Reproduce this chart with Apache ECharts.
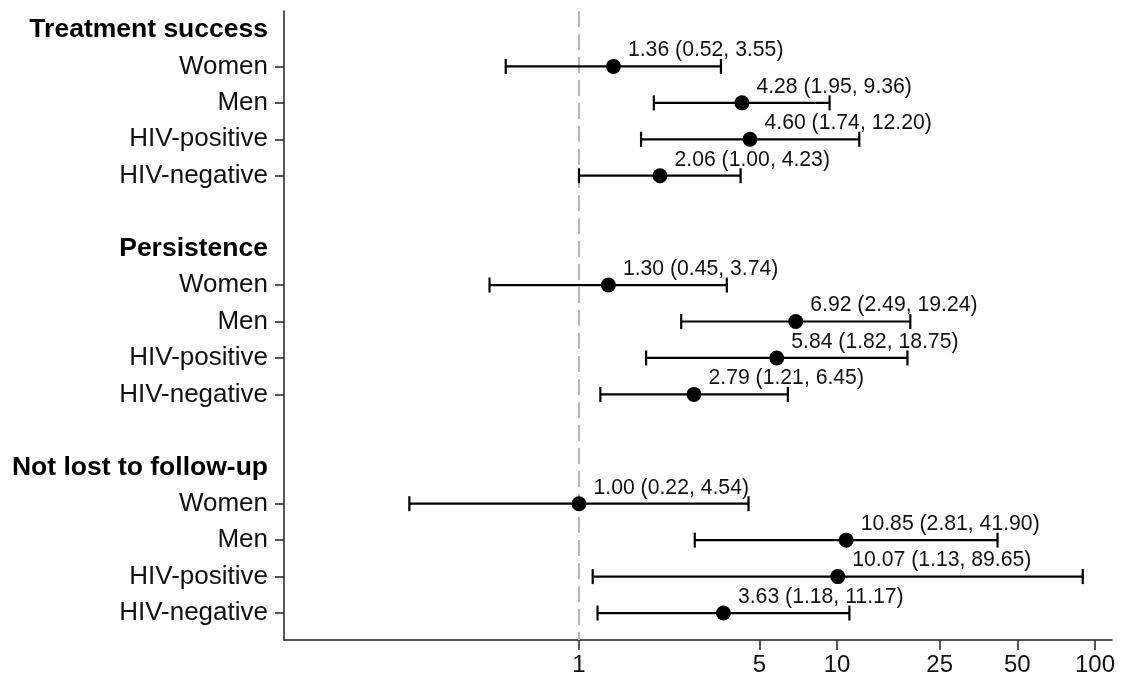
<!DOCTYPE html>
<html>
<head>
<meta charset="utf-8">
<script src="https://cdn.jsdelivr.net/npm/echarts@6/dist/echarts.min.js"></script>
<style>html,body{margin:0;padding:0;background:#fff}#c{width:1134px;height:682px}</style>
</head>
<body>
<div id="c"></div>
<script>
// Row labels (top to bottom); empty strings are spacer rows
var rowLabels = ['Treatment success','Women','Men','HIV-positive','HIV-negative','',
                 'Persistence','Women','Men','HIV-positive','HIV-negative','',
                 'Not lost to follow-up','Women','Men','HIV-positive','HIV-negative'];
var headerRows = [0, 6, 12];
var itemRows = [1,2,3,4, 7,8,9,10, 13,14,15,16];
// Odds ratios with 95% CI, in the order of itemRows
var estimates = [1.36, 4.28, 4.60, 2.06, 1.30, 6.92, 5.84, 2.79, 1.00, 10.85, 10.07, 3.63];
var lowerCI   = [0.52, 1.95, 1.74, 1.00, 0.45, 2.49, 1.82, 1.21, 0.22, 2.81, 1.13, 1.18];
var upperCI   = [3.55, 9.36, 12.20, 4.23, 3.74, 19.24, 18.75, 6.45, 4.54, 41.90, 89.65, 11.17];
var xTickValues = [1, 5, 10, 25, 50, 100];

var FONT = '"Liberation Sans", Arial, Helvetica, sans-serif';
var lg = function (v) { return Math.log10(v); };

var pointData = [], ciData = [];
for (var i = 0; i < itemRows.length; i++) {
  pointData.push({
    value: [lg(estimates[i]), itemRows[i]],
    label: { formatter: estimates[i].toFixed(2) + ' (' + lowerCI[i].toFixed(2) + ', ' + upperCI[i].toFixed(2) + ')' }
  });
  ciData.push([lg(lowerCI[i]), lg(upperCI[i]), itemRows[i]]);
}

var chart = echarts.init(document.getElementById('c'));
chart.setOption({
  animation: false,
  backgroundColor: '#fff',
  grid: { left: 284, right: 22, top: 11, bottom: 42, containLabel: false },
  xAxis: {
    type: 'value',
    min: -1.1434, max: 2.0659,
    splitLine: { show: false },
    axisLine: { show: true, onZero: false, lineStyle: { color: '#222', width: 1.5 } },
    axisTick: { show: true, length: 10, lineStyle: { color: '#222', width: 1.5 },
      customValues: xTickValues.map(lg) },
    axisLabel: {
      customValues: xTickValues.map(lg),
      formatter: function (v) { return String(Math.round(Math.pow(10, v))); },
      fontSize: 24, color: '#111', fontFamily: FONT, margin: 13
    }
  },
  yAxis: {
    type: 'value',
    inverse: true,
    min: -0.52, max: 16.74,
    splitLine: { show: false },
    axisLine: { show: true, onZero: false, lineStyle: { color: '#222', width: 1.5 } },
    axisTick: { show: true, length: 9, lineStyle: { color: '#222', width: 1.5 },
      customValues: itemRows },
    axisLabel: {
      customValues: itemRows.concat(headerRows),
      margin: 16,
      fontFamily: FONT,
      formatter: function (v) {
        var idx = Math.round(v);
        var t = rowLabels[idx];
        return headerRows.indexOf(idx) >= 0 ? '{h|' + t + '}' : '{n|' + t + '}';
      },
      rich: {
        h: { fontSize: 26.5, fontWeight: 'bold', color: '#000', fontFamily: FONT },
        n: { fontSize: 26, color: '#111', fontFamily: FONT }
      }
    }
  },
  series: [
    {
      type: 'custom',
      data: ciData,
      encode: { x: [0, 1], y: 2 },
      z: 3,
      renderItem: function (params, api) {
        var p1 = api.coord([api.value(0), api.value(2)]);
        var p2 = api.coord([api.value(1), api.value(2)]);
        var h = 7.5;
        var st = { stroke: '#000', lineWidth: 2.2 };
        return {
          type: 'group',
          children: [
            { type: 'line', shape: { x1: p1[0], y1: p1[1], x2: p2[0], y2: p2[1] }, style: st },
            { type: 'line', shape: { x1: p1[0], y1: p1[1] - h, x2: p1[0], y2: p1[1] + h }, style: st },
            { type: 'line', shape: { x1: p2[0], y1: p2[1] - h, x2: p2[0], y2: p2[1] + h }, style: st }
          ]
        };
      },
      markLine: {
        silent: true,
        symbol: 'none',
        label: { show: false },
        lineStyle: { color: '#b8b8b8', type: [16, 7], width: 2 },
        data: [{ xAxis: 0 }],
        z: 1
      }
    },
    {
      type: 'scatter',
      data: pointData,
      symbol: 'circle',
      symbolSize: 15,
      itemStyle: { color: '#000', opacity: 1 },
      z: 4,
      label: {
        show: true,
        position: 'right',
        distance: 7,
        offset: [0, -16],
        fontSize: 21.2,
        color: '#111',
        fontFamily: FONT
      }
    }
  ]
});
</script>
</body>
</html>
